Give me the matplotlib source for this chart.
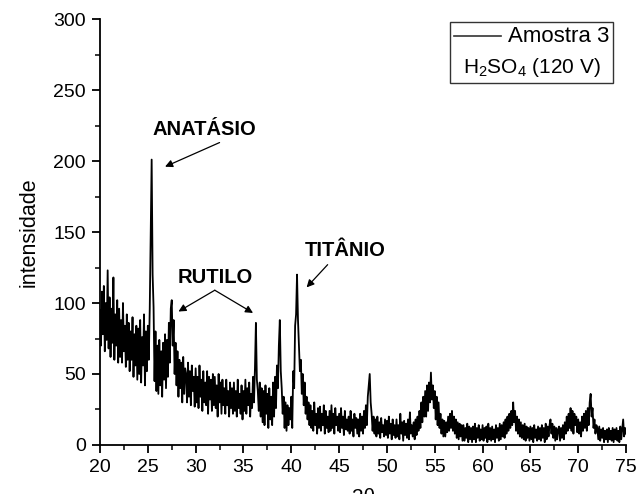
import numpy as np
import matplotlib
matplotlib.use('Agg')
import matplotlib.pyplot as plt
from matplotlib.lines import Line2D
from matplotlib.offsetbox import (AnchoredOffsetbox, VPacker, HPacker,
                                  TextArea, DrawingArea)

plt.rcParams['font.family'] = ['Liberation Sans', 'DejaVu Sans']
plt.rcParams['mathtext.fontset'] = 'custom'
plt.rcParams['mathtext.rm'] = 'Liberation Sans'
plt.rcParams['mathtext.it'] = 'Liberation Sans'

# 2theta from 20 to 75 in 0.1 deg steps, intensity
# (one row per degree: d.0 ... d.9)
intensidade = [
    95, 70, 108, 78, 112, 66, 100, 74, 123, 68,      # 20
    104, 62, 96, 72, 118, 60, 92, 70, 102, 58,       # 21
    96, 62, 88, 58, 100, 66, 84, 55, 92, 60,         # 22
    86, 52, 80, 60, 90, 48, 78, 56, 84, 46,          # 23
    82, 50, 88, 44, 76, 56, 92, 42, 80, 52,          # 24
    84, 60, 96, 150, 201, 120, 97, 45, 80, 38,       # 25
    70, 36, 74, 42, 66, 34, 72, 46, 78, 40,          # 26
    74, 48, 86, 58, 96, 102, 70, 88, 50, 72,         # 27
    42, 66, 34, 60, 40, 58, 30, 62, 36, 54,          # 28
    50, 30, 58, 34, 52, 28, 56, 38, 48, 27,          # 29
    54, 30, 48, 26, 56, 34, 46, 24, 52, 30,          # 30
    44, 28, 52, 22, 48, 32, 46, 24, 50, 28,          # 31
    48, 26, 42, 20, 50, 30, 44, 22, 46, 28,          # 32
    40, 22, 46, 28, 38, 20, 44, 26, 40, 22,          # 33
    44, 24, 38, 20, 46, 26, 36, 22, 42, 18,          # 34
    38, 24, 46, 22, 40, 28, 44, 20, 36, 26,          # 35
    48, 30, 54, 86, 46, 38, 24, 44, 20, 40,          # 36
    16, 38, 14, 42, 22, 36, 12, 40, 18, 34,          # 37
    14, 44, 20, 48, 26, 56, 40, 70, 88, 52,          # 38
    40, 22, 34, 12, 30, 10, 28, 14, 26, 18,          # 39
    34, 12, 52, 40, 84, 92, 120, 88, 70, 52,         # 40
    60, 36, 50, 28, 44, 22, 34, 18, 30, 14,          # 41
    28, 12, 24, 10, 30, 14, 22, 8, 26, 12,           # 42
    27, 10, 22, 14, 28, 8, 24, 12, 20, 9,            # 43
    24, 10, 28, 12, 22, 8, 26, 14, 20, 10,           # 44
    22, 9, 26, 12, 20, 7, 24, 11, 18, 10,            # 45
    20, 8, 24, 10, 18, 6, 22, 12, 19, 8,             # 46
    18, 6, 22, 10, 20, 8, 24, 12, 28, 14,            # 47
    34, 42, 50, 30, 22, 10, 20, 8, 18, 6,            # 48
    20, 8, 16, 5, 19, 9, 14, 6, 18, 7,               # 49
    17, 5, 20, 8, 15, 4, 18, 7, 14, 5,               # 50
    18, 6, 14, 4, 22, 8, 16, 3, 17, 7,               # 51
    15, 5, 18, 4, 23, 8, 14, 6, 16, 4,               # 52
    18, 7, 20, 10, 24, 12, 30, 16, 34, 20,           # 53
    38, 20, 42, 24, 44, 30, 51, 32, 42, 26,          # 54
    38, 18, 34, 14, 30, 12, 22, 8, 18, 6,            # 55
    17, 6, 16, 9, 20, 10, 22, 12, 24, 10,            # 56
    20, 8, 18, 5, 16, 4, 15, 6, 14, 3,               # 57
    14, 3, 12, 5, 15, 2, 13, 4, 12, 2,               # 58
    13, 4, 15, 2, 12, 5, 14, 3, 11, 4,               # 59
    14, 3, 12, 5, 13, 2, 15, 4, 12, 3,               # 60
    13, 4, 11, 2, 14, 5, 12, 3, 15, 4,               # 61
    14, 6, 16, 5, 18, 8, 20, 10, 22, 12,             # 62
    24, 14, 30, 16, 24, 10, 20, 8, 18, 6,            # 63
    16, 5, 14, 4, 15, 3, 13, 5, 12, 3,               # 64
    13, 4, 12, 2, 14, 5, 11, 3, 13, 4,               # 65
    12, 3, 14, 5, 12, 2, 15, 4, 13, 6,               # 66
    14, 18, 8, 15, 5, 13, 3, 12, 4, 11,              # 67
    13, 3, 12, 5, 14, 4, 16, 8, 20, 10,              # 68
    22, 12, 26, 10, 24, 8, 22, 14, 20, 9,            # 69
    18, 8, 16, 6, 20, 10, 22, 12, 24, 10,            # 70
    26, 14, 30, 36, 20, 26, 12, 18, 8, 14,           # 71
    12, 4, 13, 3, 11, 5, 12, 2, 10, 4,               # 72
    11, 2, 12, 4, 10, 3, 12, 2, 11, 4,               # 73
    12, 3, 10, 2, 13, 4, 11, 18, 6, 12,              # 74
    8,                                               # 75.0
]
dois_theta = np.linspace(20, 75, len(intensidade))

fig = plt.figure(figsize=(6.44, 4.94), dpi=100)
ax = fig.add_axes([0.1553, 0.0992, 0.8168, 0.8623])

ax.plot(dois_theta, intensidade, color='black', lw=1.3)

ax.set_xlim(20, 75)
ax.set_ylim(0, 300)
ax.set_xticks(np.arange(20, 76, 5))
ax.set_xticks(np.arange(22.5, 75, 5), minor=True)
ax.set_yticks(np.arange(0, 301, 50))
ax.set_yticks(np.arange(25, 300, 50), minor=True)
for s in ['top', 'right']:
    ax.spines[s].set_visible(False)
for s in ['left', 'bottom']:
    ax.spines[s].set_linewidth(1.3)
ax.tick_params(which='major', direction='out', length=6, width=1.3,
               labelsize=14, pad=4)
ax.tick_params(which='minor', direction='out', length=3.5, width=1.1)
ax.set_ylabel('intensidade', fontsize=15.5, labelpad=10)

# x label, cut off by the bottom edge as in the original
fig.text(0.564, 0.012, '2θ', fontsize=15, ha='center', va='top')

seta = dict(arrowstyle='-|>', color='black', lw=0.9, mutation_scale=11,
            shrinkA=0, shrinkB=0)
ax.text(30.9, 222, 'ANATÁSIO', fontsize=14.5, fontweight='bold',
        ha='center', va='center')
ax.annotate('', xy=(26.8, 196), xytext=(32.5, 213), arrowprops=seta)

ax.text(32.0, 118, 'RUTILO', fontsize=14.5, fontweight='bold',
        ha='center', va='center')
ax.annotate('', xy=(28.2, 94), xytext=(32.0, 109), arrowprops=seta)
ax.annotate('', xy=(36.0, 93), xytext=(32.0, 109), arrowprops=seta)

ax.text(45.6, 137, 'TITÂNIO', fontsize=14.5, fontweight='bold',
        ha='center', va='center')
ax.annotate('', xy=(41.6, 111), xytext=(43.8, 127), arrowprops=seta)

# legend box
da = DrawingArea(34, 10, 0, 0)
da.add_artist(Line2D([0, 34], [5, 5], color='#333333', lw=1.2))
linha1 = HPacker(children=[da, TextArea('Amostra 3',
                                        textprops=dict(fontsize=16))],
                 align='center', pad=0, sep=5)
linha2 = TextArea('H$_2$SO$_4$ (120 V)', textprops=dict(fontsize=15))
caixa = VPacker(children=[linha1, linha2], align='center', pad=0, sep=7)
leg = AnchoredOffsetbox(loc='upper right', child=caixa, pad=0.25,
                        borderpad=0.3, frameon=True,
                        bbox_to_anchor=(613 + 4, 494 - 22 + 4),
                        bbox_transform=None)
leg.patch.set_edgecolor('#333333')
leg.patch.set_linewidth(1.0)
leg.patch.set_boxstyle('square', pad=0)
fig.add_artist(leg)

fig.savefig('out.png', dpi=100)
